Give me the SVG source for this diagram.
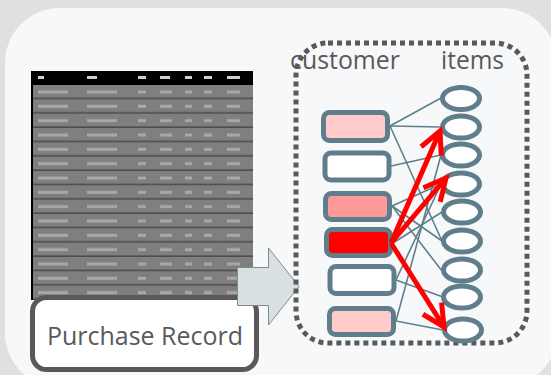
<svg xmlns="http://www.w3.org/2000/svg" width="551" height="375" viewBox="0 0 551 375">
<defs>
<style>
.lbl{font-family:"Open Sans","Noto Sans","Liberation Sans",sans-serif;fill:#595959}
.cust{stroke:#607d8b;stroke-width:5}
.item{fill:#ffffff;stroke:#607d8b;stroke-width:5}
.edge{stroke:#5f7f8c;stroke-width:1.6;fill:none}
.red{stroke:#ff0000;stroke-width:5;fill:none;marker-end:url(#vhead)}
</style>
<marker id="vhead" markerUnits="userSpaceOnUse" markerWidth="40" markerHeight="40" viewBox="-30 -20 40 40" refX="0" refY="0" orient="auto">
<path d="M-22,-11 L0,0 L-22,11" fill="none" stroke="#ff0000" stroke-width="5" stroke-linejoin="miter"/>
</marker>
<pattern id="rows" patternUnits="userSpaceOnUse" x="32" y="85" width="221" height="14.33">
<rect width="221" height="14.33" fill="#7f7f7f"/>
<rect y="12.8" width="221" height="1.5" fill="#4a4a4a"/>
<g fill="#a8a8a8">
<rect x="6" y="5.5" width="30" height="3"/>
<rect x="55" y="5.5" width="30" height="3"/>
<rect x="106" y="5.5" width="8" height="3"/>
<rect x="128" y="5.5" width="12" height="3"/>
<rect x="153" y="5.5" width="7" height="3"/>
<rect x="172" y="5.5" width="8" height="3"/>
<rect x="195" y="5.5" width="13" height="3"/>
</g>
</pattern>
</defs>
<rect width="551" height="375" fill="#e0e0e0"/>
<rect x="5" y="8" width="552" height="380" rx="55" fill="#f7f8fa"/>

<g id="table">
<rect x="32" y="85" width="221" height="215" fill="url(#rows)"/>
<rect x="32" y="71" width="221" height="14" fill="#000000"/>
<g fill="#d0d0d0">
<rect x="38" y="76" width="6" height="3"/>
<rect x="87" y="76" width="10" height="3"/>
<rect x="138" y="76" width="8" height="3"/>
<rect x="160" y="76" width="10" height="3"/>
<rect x="185" y="76" width="7" height="3"/>
<rect x="204" y="76" width="8" height="3"/>
<rect x="227" y="76" width="13" height="3"/>
</g>
<rect x="31" y="71" width="2" height="229" fill="#000000"/>
</g>

<g id="purchase-record">
<rect x="32.5" y="297.5" width="224" height="72" rx="14" fill="#ffffff" stroke="#595959" stroke-width="5"/>
<text class="lbl" x="47" y="345" font-size="26" textLength="196" lengthAdjust="spacingAndGlyphs">Purchase Record</text>
</g>

<g id="block-arrow">
<path d="M237.5,267.5 L268.5,267.5 L268.5,248 L299,286.5 L268.5,325 L268.5,305.5 L237.5,305.5 Z" fill="#d9e0e1" stroke="#7f8c8d" stroke-width="1"/>
</g>

<g id="group-box">
<rect x="296" y="43" width="231" height="300" rx="32" fill="none" stroke="#595959" stroke-width="5" stroke-dasharray="5 4"/>
<text class="lbl" x="290" y="69" font-size="26" textLength="110" lengthAdjust="spacingAndGlyphs">customer</text>
<text class="lbl" x="441" y="69" font-size="26" textLength="63" lengthAdjust="spacingAndGlyphs">items</text>
</g>

<g id="connectors">
<line class="edge" x1="390" y1="126" x2="441" y2="98"/>
<line class="edge" x1="390" y1="126" x2="441" y2="127"/>
<line class="edge" x1="390" y1="126" x2="442" y2="241"/>
<line class="edge" x1="391" y1="166" x2="441" y2="155"/>
<line class="edge" x1="392" y1="206" x2="441" y2="184"/>
<line class="edge" x1="392" y1="206" x2="442" y2="241"/>
<line class="edge" x1="392" y1="206" x2="442" y2="271"/>
<line class="edge" x1="393" y1="243" x2="442" y2="212"/>
<line class="edge" x1="396" y1="280" x2="443" y2="297"/>
<line class="edge" x1="396" y1="280" x2="441" y2="184"/>
<line class="edge" x1="396" y1="321" x2="443" y2="330"/>
<line class="edge" x1="396" y1="321" x2="441" y2="155"/>
</g>

<g id="customer-1"><rect class="cust" x="323.5" y="112.5" width="64" height="28" rx="6" fill="#ffcccc"/></g>
<g id="customer-2"><rect class="cust" x="325" y="153" width="64" height="27" rx="6" fill="#ffffff"/></g>
<g id="customer-3"><rect class="cust" x="325.5" y="193.5" width="64" height="26" rx="6" fill="#ff9999"/></g>
<g id="customer-4"><rect class="cust" x="326.5" y="229.5" width="64" height="26" rx="6" fill="#ff0000"/></g>
<g id="customer-5"><rect class="cust" x="330" y="266.5" width="64" height="27" rx="6" fill="#ffffff"/></g>
<g id="customer-6"><rect class="cust" x="329.5" y="308.5" width="64" height="26" rx="6" fill="#ffcccc"/></g>

<g id="item-1"><ellipse class="item" cx="461" cy="98.5" rx="18.5" ry="11"/></g>
<g id="item-2"><ellipse class="item" cx="461" cy="127" rx="18.5" ry="11"/></g>
<g id="item-3"><ellipse class="item" cx="461" cy="155" rx="18.5" ry="11"/></g>
<g id="item-4"><ellipse class="item" cx="461" cy="184" rx="18.5" ry="11"/></g>
<g id="item-5"><ellipse class="item" cx="462" cy="212" rx="18.5" ry="11"/></g>
<g id="item-6"><ellipse class="item" cx="462" cy="241" rx="18.5" ry="11"/></g>
<g id="item-7"><ellipse class="item" cx="462" cy="270" rx="18.5" ry="11"/></g>
<g id="item-8"><ellipse class="item" cx="462" cy="297" rx="18.5" ry="11"/></g>
<g id="item-9"><ellipse class="item" cx="463" cy="330" rx="18.5" ry="11"/></g>

<g id="red-arrows">
<line class="red" x1="391" y1="243" x2="440" y2="131"/>
<line class="red" x1="391" y1="243" x2="446" y2="178"/>
<line class="red" x1="391" y1="243" x2="444" y2="327"/>
</g>
</svg>
